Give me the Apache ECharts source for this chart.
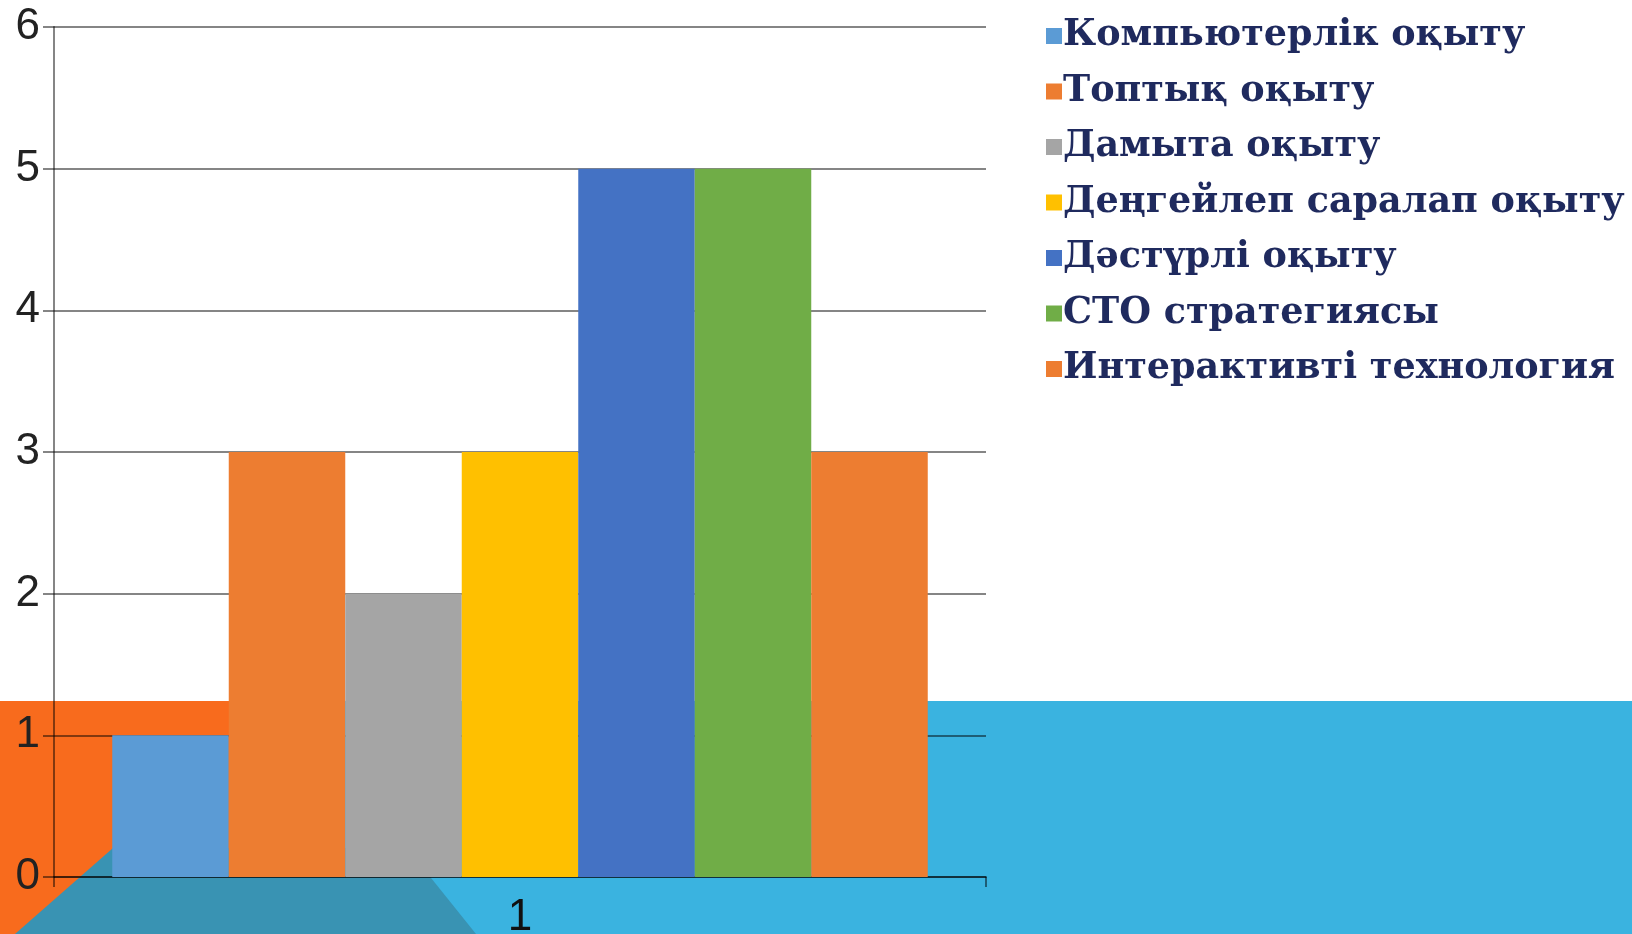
<!DOCTYPE html>
<html>
<head>
<meta charset="utf-8">
<script src="https://cdn.jsdelivr.net/npm/echarts@6/dist/echarts.min.js"></script>
<style>
  html, body { margin: 0; padding: 0; background: #ffffff; }
  #stage { position: relative; width: 1632px; height: 934px; overflow: hidden; background: #ffffff; }
  #bgBlue { position: absolute; left: 0; top: 701px; width: 1632px; height: 233px; background: #3ab3e0; }
  #bgOrange { position: absolute; left: 0; top: 701px; width: 229px; height: 233px; background: #f86b1d; }
  #bgTeal { position: absolute; left: 0; top: 0; width: 1632px; height: 934px; }
  #chart { position: absolute; left: 0; top: 0; width: 1632px; height: 934px; }
</style>
</head>
<body>
<div id="stage">
  <div id="bgBlue"></div>
  <div id="bgOrange"></div>
  <svg id="bgTeal" width="1632" height="934"><polygon points="15,934 113,848 407,848 476,934" fill="#3993b3"/></svg>
  <div id="chart"></div>
</div>
<script>
const categories = ['1'];
const seriesNames = [
  'Компьютерлік оқыту',
  'Топтық оқыту',
  'Дамыта оқыту',
  'Деңгейлеп саралап оқыту',
  'Дәстүрлі оқыту',
  'СТО стратегиясы',
  'Интерактивті технология'
];
const seriesValues = [1, 3, 2, 3, 5, 5, 3];
const seriesColors = ['#5b9bd5', '#ed7d31', '#a5a5a5', '#ffc000', '#4472c4', '#70ad47', '#ed7d31'];
const yMin = 0, yMax = 6, yInterval = 1;

const chart = echarts.init(document.getElementById('chart'), null, { renderer: 'canvas' });
const lineColor = 'rgba(0,0,0,0.48)';
chart.setOption({
  animation: false,
  backgroundColor: 'transparent',
  color: seriesColors,
  grid: { left: 54, right: 646, top: 27, bottom: 57, containLabel: false, outerBoundsMode: 'none' },
  legend: {
    orient: 'vertical',
    left: 1041,
    top: 12,
    icon: 'rect',
    itemWidth: 16,
    itemHeight: 16,
    itemGap: 17.5,
    textStyle: {
      fontFamily: 'DejaVu Serif',
      fontWeight: 'bold',
      fontSize: 36.5,
      lineHeight: 38,
      color: '#1f2a5e',
      padding: [0, 0, 0, -4]
    },
    data: seriesNames
  },
  xAxis: {
    type: 'category',
    data: categories,
    axisLine: { show: true, lineStyle: { color: lineColor, width: 2 } },
    axisTick: { show: true, alignWithLabel: false, length: 10, lineStyle: { color: lineColor, width: 2 } },
    axisLabel: { fontFamily: 'Liberation Sans', fontSize: 44, color: '#111', margin: 19 },
    splitLine: { show: false }
  },
  yAxis: {
    type: 'value',
    min: yMin, max: yMax, interval: yInterval,
    axisLine: { show: true, lineStyle: { color: lineColor, width: 2 } },
    axisTick: { show: true, length: 11, lineStyle: { color: lineColor, width: 2 } },
    axisLabel: { fontFamily: 'Liberation Sans', fontSize: 44, color: '#222', margin: 14 },
    splitLine: { show: true, lineStyle: { color: lineColor, width: 2 } }
  },
  series: seriesNames.map((name, i) => ({
    name: name,
    type: 'bar',
    data: [seriesValues[i]],
    barGap: '0%',
    barCategoryGap: '12.5%',
    itemStyle: { color: seriesColors[i] }
  }))
});
</script>
</body>
</html>
